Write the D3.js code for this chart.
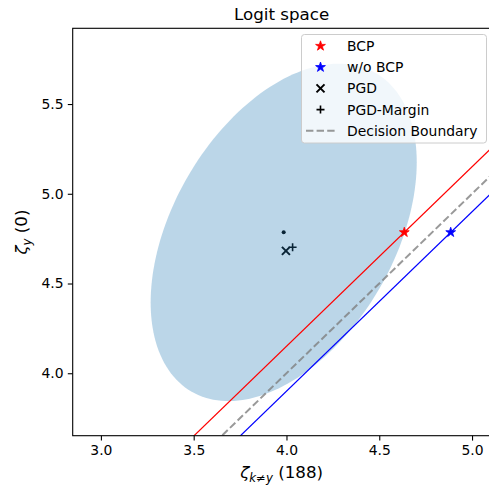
<!DOCTYPE html>
<html>
<head>
<meta charset="utf-8">
<script src="https://cdn.jsdelivr.net/npm/d3@7"></script>
<style>
  body { margin: 0; background: #fff; }
  svg { display: block; font-family: "DejaVu Sans", sans-serif; }
</style>
</head>
<body>
<div id="content"></div>
<script>
// ---- data ----
const xTicks = [3.0, 3.5, 4.0, 4.5, 5.0];
const yTicks = [4.0, 4.5, 5.0, 5.5];
const xDomain = [2.848, 5.1];
const yDomain = [3.652, 5.922];

// confidence ellipse (centre + covariance-like shape)
const ellipseCenter = [3.985, 4.785];
const ellipseShape = [[0.514, 0.28], [0.28, 0.884]];

// boundary lines  y = x + offset
const lineNames = ['BCP', 'Decision Boundary', 'w/o BCP'];
const lineOffsets = [0.15, 0.0, -0.1];

// points
const bcpPoint = [4.635, 4.785];
const woBcpPoint = [4.885, 4.785];
const pgdPoint = [3.997, 4.682];
const pgdMarginPoint = [4.033, 4.702];

const legendLabels = ['BCP', 'w/o BCP', 'PGD', 'PGD-Margin', 'Decision Boundary'];

var app = {};
app.width = 489;
app.height = 490;
app.plot = { left: 72.7, right: 490.6, top: 28.3, bottom: 435.7 };

app.x = d3.scaleLinear().domain(xDomain).range([app.plot.left, app.plot.right]);
app.y = d3.scaleLinear().domain(yDomain).range([app.plot.bottom, app.plot.top]);

app.svg = d3.select('#content').append('svg')
  .attr('width', app.width)
  .attr('height', app.height);

app.svg.append('defs').append('clipPath').attr('id', 'clip')
  .append('rect')
  .attr('x', app.plot.left).attr('y', app.plot.top)
  .attr('width', app.plot.right - app.plot.left)
  .attr('height', app.plot.bottom - app.plot.top);

app.g = app.svg.append('g').attr('clip-path', 'url(#clip)');

// marker path helpers
function crossPath(s) {
  return `M${-s},${-s}L${s},${s}M${-s},${s}L${s},${-s}`;
}
function plusPath(s) {
  return `M${-s},0L${s},0M0,${-s}L0,${s}`;
}

// PGD markers and centre (drawn beneath the ellipse)
app.g.append('path')
  .attr('d', crossPath(4))
  .attr('transform', `translate(${app.x(pgdPoint[0])},${app.y(pgdPoint[1])})`)
  .attr('stroke', '#000').attr('stroke-width', 2).attr('fill', 'none');
app.g.append('path')
  .attr('d', plusPath(4))
  .attr('transform', `translate(${app.x(pgdMarginPoint[0])},${app.y(pgdMarginPoint[1])})`)
  .attr('stroke', '#000').attr('stroke-width', 1.6).attr('fill', 'none');
app.g.append('circle')
  .attr('cx', app.x(ellipseCenter[0])).attr('cy', app.y(ellipseCenter[1]))
  .attr('r', 2).attr('fill', '#000');

// ellipse
app.a = Math.sqrt(ellipseShape[0][0]);
app.b = ellipseShape[0][1] / app.a;
app.c = Math.sqrt(ellipseShape[1][1] - app.b * app.b);
app.ellPts = d3.range(0, 361, 2).map(function (deg) {
  var t = deg * Math.PI / 180;
  var u = Math.cos(t), v = Math.sin(t);
  return [ellipseCenter[0] + app.a * u, ellipseCenter[1] + app.b * u + app.c * v];
});
app.g.append('path')
  .attr('d', d3.line().x(d => app.x(d[0])).y(d => app.y(d[1])).curve(d3.curveLinearClosed)(app.ellPts))
  .attr('fill', '#1f77b4')
  .attr('fill-opacity', 0.3);

// boundary lines
app.lineColor = { 'BCP': '#ff0000', 'w/o BCP': '#0000ff', 'Decision Boundary': 'gray' };
lineNames.forEach(function (name, i) {
  var off = lineOffsets[i];
  var pts = [[xDomain[0] - 1, xDomain[0] - 1 + off], [xDomain[1] + 1, xDomain[1] + 1 + off]];
  var p = app.g.append('path')
    .attr('d', d3.line().x(d => app.x(d[0])).y(d => app.y(d[1]))(pts))
    .attr('fill', 'none')
    .attr('stroke', app.lineColor[name]);
  if (name === 'Decision Boundary') {
    p.attr('stroke-width', 2).attr('stroke-dasharray', '7.4,3.2').attr('stroke-opacity', 0.8);
  } else {
    p.attr('stroke-width', 1.2);
  }
});

// stars
app.star = d3.symbol().type(d3.symbolStar).size(30);
[[bcpPoint, '#ff0000'], [woBcpPoint, '#0000ff']].forEach(function (d) {
  app.g.append('path')
    .attr('d', app.star())
    .attr('transform', `translate(${app.x(d[0][0])},${app.y(d[0][1])})`)
    .attr('fill', d[1]).attr('stroke', d[1]).attr('stroke-width', 0.8);
});

// axes
app.xAxis = d3.axisBottom(app.x).tickValues(xTicks).tickFormat(d3.format('.1f'))
  .tickSizeInner(4.9).tickSizeOuter(0).tickPadding(4.2);
app.yAxis = d3.axisLeft(app.y).tickValues(yTicks).tickFormat(d3.format('.1f'))
  .tickSizeInner(4.9).tickSizeOuter(0).tickPadding(4.2);

app.xGuide = app.svg.append('g')
  .attr('transform', `translate(0,${app.plot.bottom})`)
  .call(app.xAxis);
app.yGuide = app.svg.append('g')
  .attr('transform', `translate(${app.plot.left},0)`)
  .call(app.yAxis);
[app.xGuide, app.yGuide].forEach(function (g) {
  g.select('.domain').remove();
  g.selectAll('text').attr('font-size', 13.9).attr('fill', '#000').attr('font-family', 'DejaVu Sans');
  g.selectAll('line').attr('stroke', '#000').attr('stroke-width', 1.1);
});

// frame
app.svg.append('rect')
  .attr('x', app.plot.left).attr('y', app.plot.top)
  .attr('width', app.plot.right - app.plot.left)
  .attr('height', app.plot.bottom - app.plot.top)
  .attr('fill', 'none').attr('stroke', '#000').attr('stroke-width', 1.1);

// title and labels
app.midX = (app.plot.left + app.plot.right) / 2;
app.svg.append('text')
  .attr('x', app.midX).attr('y', 20)
  .attr('text-anchor', 'middle').attr('font-size', 16.7)
  .text('Logit space');

app.xLabel = app.svg.append('text')
  .attr('x', app.midX).attr('y', 478)
  .attr('text-anchor', 'middle').attr('font-size', 16.7);
app.xLabel.append('tspan').attr('font-style', 'italic').text('ζ');
app.xLabel.append('tspan').attr('font-style', 'italic').attr('font-size', 11.7).attr('dy', 3.5).text('k≠y');
app.xLabel.append('tspan').attr('dy', -3.5).text(' (188)');

app.yLabel = app.svg.append('text')
  .attr('transform', `translate(27,${(app.plot.top + app.plot.bottom) / 2}) rotate(-90)`)
  .attr('text-anchor', 'middle').attr('font-size', 16.7);
app.yLabel.append('tspan').attr('font-style', 'italic').text('ζ');
app.yLabel.append('tspan').attr('font-style', 'italic').attr('font-size', 11.7).attr('dy', 3.5).text('y');
app.yLabel.append('tspan').attr('dy', -3.5).text(' (0)');

// legend
app.legend = app.svg.append('g');
app.legend.append('rect')
  .attr('x', 301.5).attr('y', 34.5).attr('width', 185).attr('height', 108.5)
  .attr('rx', 3).attr('fill', '#fff').attr('fill-opacity', 0.8)
  .attr('stroke', '#cccccc').attr('stroke-width', 1);
legendLabels.forEach(function (label, i) {
  var cy = 46 + i * 21.2;
  var mx = 320.5;
  if (label === 'BCP' || label === 'w/o BCP') {
    var col = label === 'BCP' ? '#ff0000' : '#0000ff';
    app.legend.append('path').attr('d', app.star())
      .attr('transform', `translate(${mx},${cy})`)
      .attr('fill', col).attr('stroke', col).attr('stroke-width', 0.8);
  } else if (label === 'PGD') {
    app.legend.append('path').attr('d', crossPath(4))
      .attr('transform', `translate(${mx},${cy})`)
      .attr('stroke', '#000').attr('stroke-width', 2);
  } else if (label === 'PGD-Margin') {
    app.legend.append('path').attr('d', plusPath(4))
      .attr('transform', `translate(${mx},${cy})`)
      .attr('stroke', '#000').attr('stroke-width', 1.6);
  } else {
    app.legend.append('line')
      .attr('x1', 306).attr('x2', 335).attr('y1', cy).attr('y2', cy)
      .attr('stroke', 'gray').attr('stroke-opacity', 0.8).attr('stroke-width', 2)
      .attr('stroke-dasharray', '7.4,3.2');
  }
  app.legend.append('text')
    .attr('x', 347).attr('y', cy + 5)
    .attr('font-size', 13.9)
    .text(label);
});
</script>
</body>
</html>
